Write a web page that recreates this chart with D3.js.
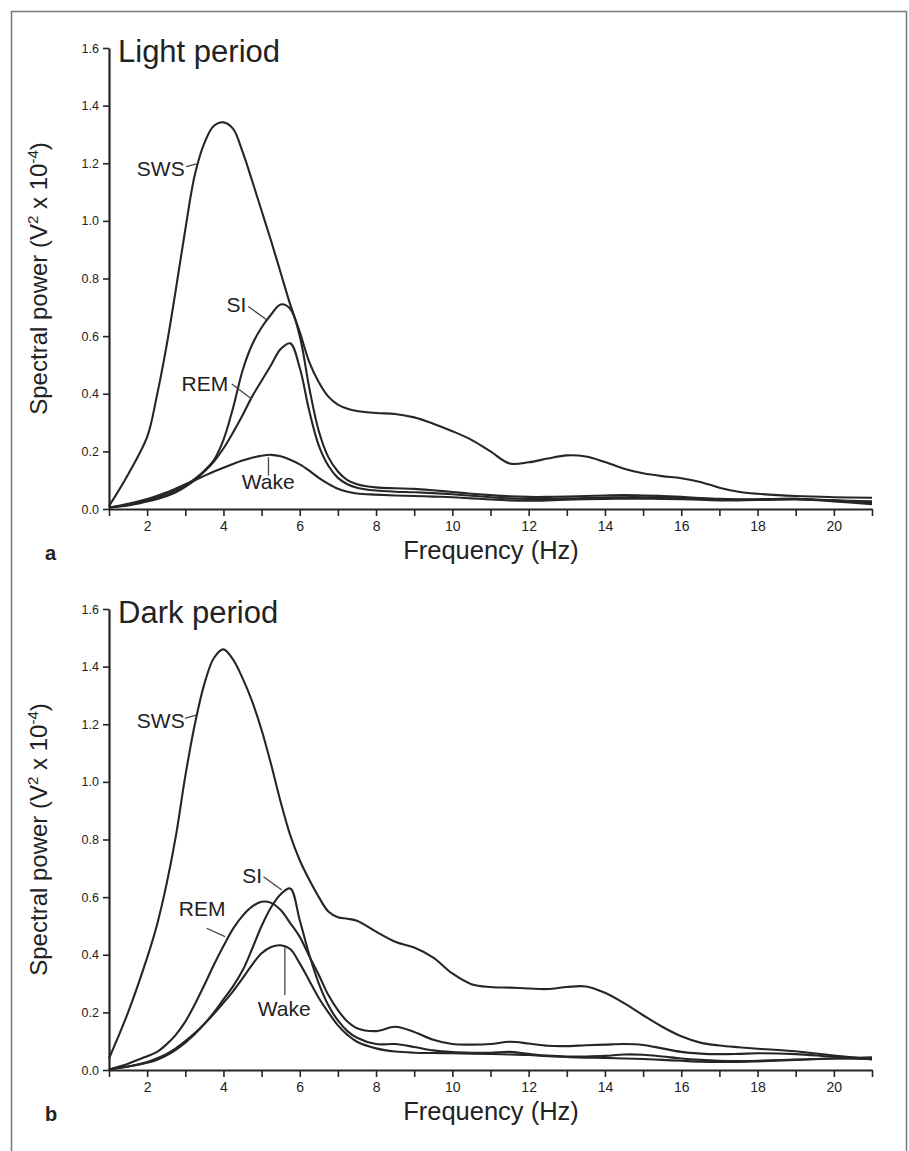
<!DOCTYPE html>
<html><head><meta charset="utf-8">
<script src="https://cdn.jsdelivr.net/npm/d3@7"></script>
<style>
body{margin:0;background:#fff}
svg{display:block}
text{font-family:"Liberation Sans",Arial,Helvetica,sans-serif;fill:#222}
</style>
</head><body>
<svg id="chart" width="909" height="1151"></svg>
<script>
// ---------- data ----------
const freq = [1,1.5,2,2.25,2.5,2.75,3,3.25,3.5,3.75,4,4.25,4.5,4.75,5,5.25,5.5,5.75,6,6.25,6.5,6.75,7,7.25,7.5,
  8,8.5,9,9.5,10,10.5,11,11.5,12,12.5,13,13.5,14,14.5,15,15.5,16,16.5,17,17.5,18,19,20,21];
const xTicks = [1,2,3,4,5,6,7,8,9,10,11,12,13,14,15,16,17,18,19,20,21];
const xTickLabels = [2,4,6,8,10,12,14,16,18,20];
const yTicks = [0,0.2,0.4,0.6,0.8,1.0,1.2,1.4,1.6];
const states = ["SWS","SI","REM","Wake"];
const panelTitles = ["Light period","Dark period"];
const panelLetters = ["a","b"];
const xTitle = "Frequency (Hz)";

const lightSWS = [0.01,0.12,0.25,0.39,0.56,0.76,0.97,1.16,1.27,1.33,1.342,1.32,1.24,1.14,1.035,0.93,0.82,0.71,0.615,0.51,0.44,0.39,0.362,0.348,0.34,
  0.333,0.33,0.318,0.296,0.27,0.24,0.2,0.158,0.162,0.175,0.186,0.182,0.163,0.14,0.124,0.114,0.107,0.094,0.074,0.06,0.053,0.045,0.041,0.039];
const lightSI = [0.005,0.015,0.03,0.04,0.05,0.065,0.083,0.105,0.133,0.17,0.24,0.35,0.48,0.57,0.63,0.675,0.71,0.695,0.60,0.42,0.27,0.18,0.13,0.10,0.086,
  0.075,0.072,0.07,0.065,0.059,0.053,0.048,0.044,0.042,0.042,0.043,0.045,0.047,0.048,0.047,0.045,0.042,0.038,0.035,0.034,0.034,0.035,0.03,0.022];
const lightREM = [0.005,0.012,0.026,0.034,0.044,0.058,0.077,0.1,0.13,0.165,0.21,0.265,0.325,0.39,0.445,0.5,0.555,0.575,0.49,0.34,0.22,0.15,0.108,0.086,0.074,
  0.064,0.06,0.058,0.055,0.051,0.046,0.041,0.037,0.035,0.035,0.036,0.038,0.04,0.041,0.041,0.04,0.038,0.035,0.032,0.032,0.033,0.035,0.026,0.017];
const lightWake = [0.005,0.018,0.035,0.045,0.057,0.071,0.086,0.1,0.115,0.13,0.143,0.156,0.168,0.178,0.185,0.188,0.183,0.171,0.155,0.133,0.108,0.087,0.07,0.06,0.054,
  0.05,0.047,0.045,0.043,0.041,0.037,0.033,0.03,0.029,0.03,0.032,0.034,0.035,0.036,0.036,0.035,0.034,0.032,0.03,0.03,0.031,0.033,0.03,0.027];

const darkSWS = [0.04,0.2,0.39,0.5,0.64,0.81,1.02,1.2,1.34,1.43,1.46,1.425,1.36,1.28,1.18,1.06,0.93,0.815,0.728,0.66,0.6,0.55,0.53,0.525,0.518,
  0.48,0.445,0.425,0.39,0.335,0.298,0.288,0.286,0.283,0.281,0.288,0.29,0.268,0.232,0.19,0.15,0.117,0.095,0.085,0.079,0.074,0.065,0.05,0.037];
const darkSI = [0.002,0.012,0.025,0.035,0.05,0.07,0.095,0.125,0.16,0.2,0.245,0.29,0.345,0.42,0.5,0.565,0.61,0.63,0.52,0.4,0.3,0.225,0.172,0.135,0.112,
  0.09,0.09,0.08,0.068,0.062,0.06,0.06,0.063,0.056,0.05,0.047,0.047,0.049,0.054,0.053,0.047,0.04,0.035,0.032,0.031,0.032,0.036,0.04,0.038];
const darkREM = [0.002,0.022,0.048,0.062,0.088,0.122,0.168,0.228,0.295,0.365,0.43,0.49,0.535,0.567,0.584,0.58,0.555,0.51,0.462,0.395,0.33,0.26,0.208,0.168,0.145,
  0.135,0.15,0.132,0.105,0.09,0.088,0.09,0.098,0.092,0.084,0.083,0.086,0.088,0.09,0.087,0.075,0.063,0.057,0.055,0.056,0.058,0.055,0.046,0.04];
const darkWake = [0.002,0.012,0.028,0.04,0.055,0.075,0.1,0.128,0.16,0.195,0.233,0.273,0.318,0.365,0.405,0.427,0.433,0.42,0.37,0.31,0.25,0.2,0.155,0.122,0.098,
  0.075,0.064,0.06,0.059,0.058,0.057,0.056,0.054,0.052,0.048,0.045,0.043,0.042,0.04,0.038,0.035,0.032,0.029,0.028,0.028,0.03,0.035,0.04,0.044];

// curve-label annotations, in data units (Hz, power): text anchor + leader line
const lightNotes = [
  {label:"SWS",  f:1.73, v:1.157, line:[[3.02,1.188],[3.30,1.198]]},
  {label:"SI",   f:4.08, v:0.683, line:[[4.65,0.703],[5.13,0.657]]},
  {label:"REM",  f:2.90, v:0.411, line:[[4.22,0.434],[4.74,0.382]]},
  {label:"Wake", f:4.48, v:0.070, line:[[5.18,0.180],[5.18,0.116]]}
];
const darkNotes = [
  {label:"SWS",  f:1.73, v:1.188, line:[[2.99,1.220],[3.28,1.232]]},
  {label:"SI",   f:4.49, v:0.650, line:[[5.05,0.671],[5.53,0.625]]},
  {label:"REM",  f:2.83, v:0.535, line:[[3.56,0.492],[4.04,0.463]]},
  {label:"Wake", f:4.90, v:0.188, line:[[5.61,0.428],[5.61,0.260]]}
];

// ---------- drawing ----------
const svg = d3.select("#chart");
const ink = "#262626";

svg.append("path")
  .attr("d","M11.5,1151V11.5H906.5V1151")
  .attr("fill","none").attr("stroke","#777").attr("stroke-width",1.5);

const panels = [
  {title:panelTitles[0], letter:panelLetters[0], series:[lightSWS,lightSI,lightREM,lightWake], notes:lightNotes, top:48, bottom:509},
  {title:panelTitles[1], letter:panelLetters[1], series:[darkSWS,darkSI,darkREM,darkWake], notes:darkNotes, top:609, bottom:1070}
];

const x = d3.scaleLinear().domain([1,21]).range([109,872]);

panels.forEach(p => {
  const y = d3.scaleLinear().domain([0,1.6]).range([p.bottom,p.top]);
  const g = svg.append("g");

  // x axis
  const xa = g.append("g").attr("transform",`translate(0,${p.bottom})`)
    .call(d3.axisBottom(x).tickValues(xTicks).tickSize(7).tickSizeOuter(0).tickPadding(5)
      .tickFormat(d => xTickLabels.includes(d) ? String(d) : ""));
  xa.attr("font-family",null).attr("font-size",null);
  xa.select(".domain").attr("stroke",ink).attr("stroke-width",2.2);
  xa.selectAll(".tick line").attr("stroke",ink).attr("stroke-width",1.6);
  xa.selectAll(".tick text").attr("font-size",14).attr("fill","#222");

  // y axis
  const ya = g.append("g").attr("transform","translate(109,0)")
    .call(d3.axisLeft(y).tickValues(yTicks).tickSize(6).tickSizeOuter(0).tickPadding(4)
      .tickFormat(d3.format(".1f")));
  ya.attr("font-family",null).attr("font-size",null);
  ya.select(".domain").attr("stroke",ink).attr("stroke-width",2.2);
  ya.selectAll(".tick line").attr("stroke",ink).attr("stroke-width",1.6);
  ya.selectAll(".tick text").attr("font-size",12.5).attr("fill","#222");

  // curves
  const line = d3.line()
    .x((d,i) => x(freq[i]))
    .y(d => y(d))
    .curve(d3.curveCatmullRom.alpha(0.5));
  p.series.forEach((s,k) => {
    g.append("path").datum(s)
      .attr("class","curve curve-"+states[k])
      .attr("d",line)
      .attr("fill","none").attr("stroke",ink).attr("stroke-width",2.1)
      .attr("stroke-linejoin","round");
  });

  // curve labels
  p.notes.forEach(n => {
    g.append("text").attr("x",x(n.f)).attr("y",y(n.v))
      .attr("font-size",21).text(n.label);
    g.append("line")
      .attr("x1",x(n.line[0][0])).attr("y1",y(n.line[0][1]))
      .attr("x2",x(n.line[1][0])).attr("y2",y(n.line[1][1]))
      .attr("stroke","#444").attr("stroke-width",1.3);
  });

  // title
  g.append("text").attr("x",118).attr("y",p.top+13.5)
    .attr("font-size",31).text(p.title);

  // x axis title
  g.append("text").attr("x",491).attr("y",p.bottom+50)
    .attr("text-anchor","middle").attr("font-size",25.5).text(xTitle);

  // y axis title
  const yt = g.append("text")
    .attr("transform",`translate(47,${(p.top+p.bottom)/2}) rotate(-90)`)
    .attr("text-anchor","middle").attr("font-size",24);
  yt.append("tspan").text("Spectral power (V");
  yt.append("tspan").attr("font-size",15).attr("dy",-9).text("2");
  yt.append("tspan").attr("dy",9).text(" x 10");
  yt.append("tspan").attr("font-size",15).attr("dy",-9).text("-4");
  yt.append("tspan").attr("dy",9).text(")");

  // panel letter
  g.append("text").attr("x",45).attr("y",p.bottom+50.5)
    .attr("font-size",20).attr("font-weight","bold").text(p.letter);
});
</script>
</body></html>
